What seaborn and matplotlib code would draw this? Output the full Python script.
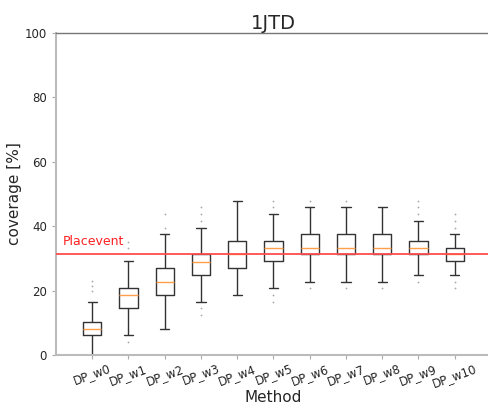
import numpy as np
import pandas as pd
import matplotlib
matplotlib.use("Agg")
import matplotlib.pyplot as plt
import seaborn as sns

methods = ["DP_w0", "DP_w1", "DP_w2", "DP_w3", "DP_w4", "DP_w5",
           "DP_w6", "DP_w7", "DP_w8", "DP_w9", "DP_w10"]
whisker_low = [0.0, 6.1, 8.2, 16.6, 18.6, 20.7, 22.8, 22.8, 22.8, 24.8, 24.8]
q1 = [6.1, 14.5, 18.6, 24.8, 26.9, 29.2, 31.3, 31.3, 31.3, 31.3, 29.2]
median = [8.2, 18.6, 22.8, 29.0, 31.3, 33.3, 33.3, 33.3, 33.3, 33.3, 31.3]
q3 = [10.3, 20.7, 26.9, 31.3, 35.4, 35.4, 37.6, 37.6, 37.6, 35.4, 33.3]
whisker_high = [16.6, 29.2, 37.6, 39.5, 47.9, 43.8, 45.9, 45.9, 45.9, 41.6, 37.6]
fliers = [
    [20.0, 21.4, 23.0],
    [3.9, 33.1, 35.2],
    [39.5, 43.8],
    [12.4, 14.5, 41.6, 43.8, 45.9],
    [],
    [16.6, 18.6, 46.0, 47.9],
    [20.7, 47.9],
    [20.7, 47.9],
    [20.7],
    [22.8, 43.8, 45.9, 47.9],
    [20.7, 22.8, 39.5, 41.6, 43.8],
]
placevent = 31.3

# long-form table: five-number summary per method (quartiles reproduced exactly)
rows = []
for m, lo, a, md, b, hi in zip(methods, whisker_low, q1, median, q3, whisker_high):
    for v in (lo, a, md, b, hi):
        rows.append({"Method": m, "coverage": v})
df = pd.DataFrame(rows)
fl_rows = [{"Method": m, "coverage": v} for m, fl in zip(methods, fliers) for v in fl]
df_fl = pd.DataFrame(fl_rows)

sns.set_style("white")
fig = plt.figure(figsize=(4.89, 4.07), dpi=100)
ax = fig.add_axes([56 / 489, 1 - 355 / 407, 435 / 489, (355 - 33) / 407])

sns.boxplot(data=df, x="Method", y="coverage", order=methods, ax=ax,
            whis=(0, 100), showfliers=False, width=0.5, fill=False,
            linewidth=1.0, color="#333333",
            medianprops={"color": "#ff9f4a", "linewidth": 1.0})
sns.stripplot(data=df_fl, x="Method", y="coverage", order=methods, ax=ax,
              jitter=False, size=1.3, color="#aaaaaa", linewidth=0)

ax.axhline(placevent, color="#ff4d4d", linewidth=1.3, zorder=5)
ax.text(-0.8, placevent + 1.8, "Placevent", color="#ff2020", fontsize=9,
        va="bottom", ha="left")

ax.set_xlim(-1, 11)
ax.set_ylim(0, 100)
ax.set_yticks([0, 20, 40, 60, 80, 100])
ax.set_title("1JTD", fontsize=14, pad=3)
ax.set_xlabel("Method", fontsize=11, labelpad=0)
ax.set_ylabel("coverage [%]", fontsize=11, labelpad=2)
ax.tick_params(axis="both", labelsize=8.5, length=3, color="#aaaaaa",
               left=True, bottom=True)
ax.tick_params(axis="x", pad=2)
plt.setp(ax.get_xticklabels(), rotation=20)
for side in ("left", "bottom"):
    ax.spines[side].set_color("#bbbbbb")
    ax.spines[side].set_linewidth(1.5)
ax.spines["top"].set_color("#777777")
ax.spines["top"].set_linewidth(1.0)
ax.spines["right"].set_visible(False)

fig.savefig("out.png", dpi=100)
